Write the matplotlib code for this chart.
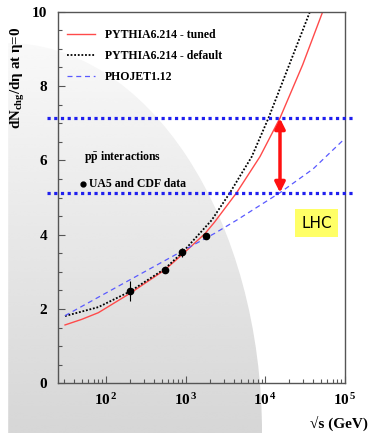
import numpy as np
import matplotlib
matplotlib.use("Agg")
import matplotlib.pyplot as plt
from matplotlib.patches import Ellipse, Rectangle
from matplotlib.ticker import FixedLocator, FixedFormatter, LogLocator, MultipleLocator

plt.rcParams['font.family'] = ['Liberation Serif', 'DejaVu Serif']
plt.rcParams['font.weight'] = 'bold'
plt.rcParams['mathtext.fontset'] = 'custom'
plt.rcParams['mathtext.rm'] = 'Liberation Serif:bold'
plt.rcParams['mathtext.bf'] = 'Liberation Serif:bold'
plt.rcParams['mathtext.it'] = 'Liberation Serif:italic:bold'

# curves (sqrt(s) in GeV, dNch/deta at eta=0)
tuned_s = [30.6, 49.5, 80.2, 200, 546, 900, 1750, 2290, 4365, 8570, 15280, 29400, 52500]
tuned_y = [1.57, 1.72, 1.90, 2.42, 3.05, 3.46, 4.03, 4.33, 5.13, 6.10, 7.14, 8.57, 10.0]

default_s = [30.6, 49.5, 80.2, 200, 546, 900, 2120, 3600, 6760, 10960, 19950, 36300]
default_y = [1.81, 1.93, 2.05, 2.47, 3.08, 3.51, 4.39, 5.13, 6.10, 7.14, 8.57, 10.0]

phojet_s = [30.6, 100, 316, 1000, 2333, 4365, 15280, 39800, 95500]
phojet_y = [1.82, 2.43, 3.02, 3.61, 4.04, 4.39, 5.13, 5.77, 6.55]

data_s = [200, 546, 900, 1800]
data_y = [2.49, 3.05, 3.52, 3.96]
data_err = [0.27, 0.04, 0.12, 0.04]

lhc_low, lhc_high = 5.13, 7.13
lhc_s = 15280

fig = plt.figure(figsize=(3.7, 4.33), dpi=100)

# gray shaded background behind the plot
bg = fig.add_axes([0, 0, 1, 1], zorder=-2)
bg.set_xlim(0, 370)
bg.set_ylim(433, 0)
bg.axis('off')
grad = np.linspace(0.99, 0.84, 200).reshape(-1, 1)
im = bg.imshow(grad, extent=(0, 370, 433, 0), cmap='gray', vmin=0, vmax=1,
               aspect='auto', interpolation='bicubic')
ell = Ellipse((7, 433), 2 * 255, 2 * 390, transform=bg.transData)
im.set_clip_path(ell)
bg.add_patch(Rectangle((0, 0), 7, 433, color='white', zorder=3))

ax = fig.add_axes([58.3 / 370, 1 - 383.3 / 433, 286.7 / 370, 371.6 / 433])
ax.patch.set_alpha(0)
ax.set_xscale('log')
ax.set_xlim(25.2, 1e5)
ax.set_ylim(0, 10)

ax.plot(tuned_s, tuned_y, color='#ff4a4a', lw=1.0, label='PYTHIA6.214 - tuned')
ax.plot(default_s, default_y, color='black', lw=1.3, ls=(0, (1, 1)),
        label='PYTHIA6.214 - default')
ax.plot(phojet_s, phojet_y, color='#5a5aff', lw=0.9, ls=(0, (4, 3)),
        label='PHOJET1.12')
ax.errorbar(data_s, data_y, yerr=data_err, fmt='o', color='black', ms=4.5,
            elinewidth=0.8, capsize=0, zorder=5)

for yv in (lhc_low, lhc_high):
    ax.axhline(yv, xmin=-0.04, xmax=1.027, color='#1f1fee', lw=2.3,
               ls=(0, (1, 1.1)), clip_on=False, zorder=4)

ax.annotate('', xy=(lhc_s, lhc_low), xytext=(lhc_s, lhc_high),
            arrowprops=dict(arrowstyle='<|-|>', color='#ff1010', lw=2.5,
                            mutation_scale=15, shrinkA=0, shrinkB=0), zorder=6)

ax.text(0.902, 0.431, 'LHC', transform=ax.transAxes, ha='center', va='center',
        fontsize=11, family='DejaVu Sans', fontweight='normal',
        bbox=dict(facecolor='#ffff66', edgecolor='none', pad=4.5))

leg = ax.legend(loc='upper left', bbox_to_anchor=(0.03, 0.953), frameon=False,
                fontsize=8.5, handlelength=2.4, handletextpad=0.8,
                labelspacing=0.75, borderpad=0, borderaxespad=0)

ax.text(0.09, 0.609, r'p$\bar{\mathrm{p}}$ interactions', transform=ax.transAxes,
        ha='left', va='center', fontsize=8.5)
ax.plot([0.087], [0.537], 'o', color='black', ms=3.5, transform=ax.transAxes,
        clip_on=False)
ax.text(0.107, 0.535, 'UA5 and CDF data', transform=ax.transAxes,
        ha='left', va='center', fontsize=8.5)

# axis styling
for side in ['top', 'right', 'left', 'bottom']:
    ax.spines[side].set_color('#555555')
    ax.spines[side].set_linewidth(1.0)

ax.yaxis.set_major_locator(MultipleLocator(2))
ax.yaxis.set_minor_locator(MultipleLocator(0.5))
ax.xaxis.set_major_locator(FixedLocator([1e2, 1e3, 1e4, 1e5]))
ax.xaxis.set_major_formatter(FixedFormatter([r'$10^{\,2}$', r'$10^{\,3}$',
                                             r'$10^{\,4}$', r'$10^{\,5}$']))
ax.xaxis.set_minor_locator(LogLocator(base=10, subs=np.arange(2, 10)))
ax.xaxis.set_minor_formatter(FixedFormatter([]))
ax.tick_params(which='both', direction='in', color='#555555', width=0.8,
               top=False, right=False)
ax.tick_params(which='major', length=5)
ax.tick_params(which='minor', length=2.6)
ax.tick_params(axis='y', labelsize=11, pad=8)
ax.tick_params(axis='x', labelsize=11, pad=6)

fig.text(18 / 370, 1 - 78 / 433, r'dN$_{\mathrm{chg}}$/d$\mathrm{\eta}$ at $\mathrm{\eta}$=0',
         rotation=90, ha='center', va='center', fontsize=10.8)
fig.text(368 / 370, 1 - 423 / 433, '\u221as (GeV)', ha='right', va='center',
         fontsize=11)

fig.savefig('out.png', dpi=100, facecolor='white')
